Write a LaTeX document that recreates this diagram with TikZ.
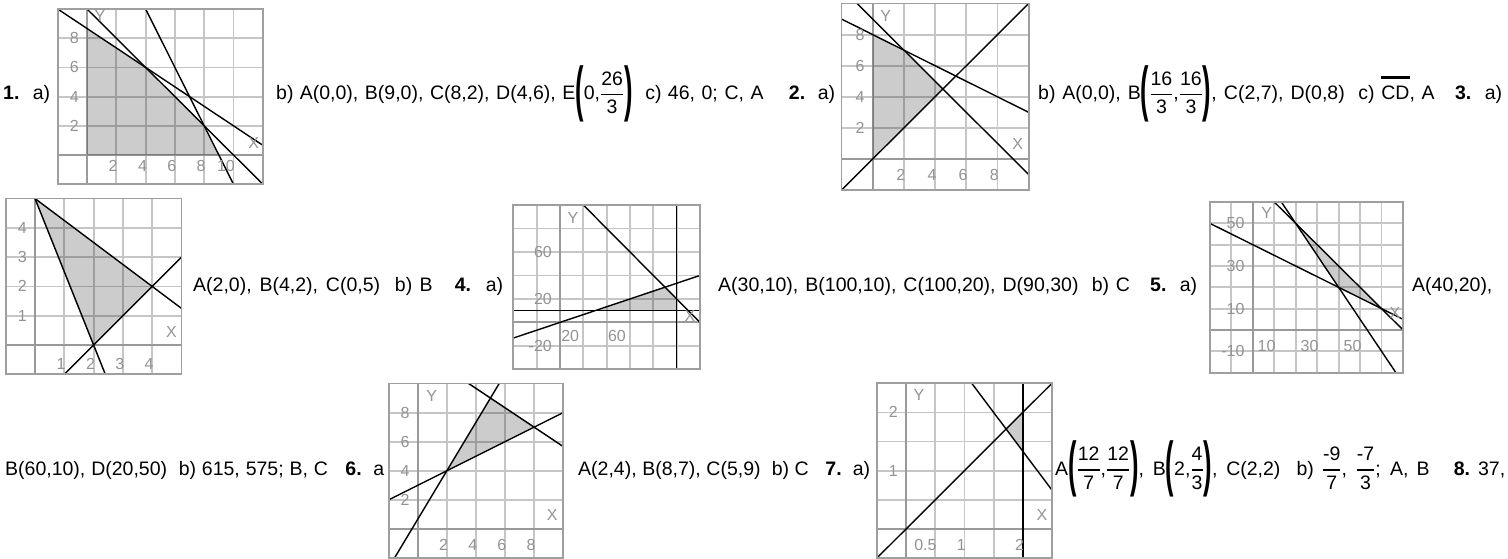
\documentclass[tikz,border=0pt]{standalone}
\usepackage{amsmath}
\usepackage{fontspec}
\setmainfont{Liberation Sans}
\usepackage{graphicx}
\usetikzlibrary{positioning}

\newcommand{\anssize}{\fontsize{19.5pt}{23pt}\selectfont}
\newcommand{\ticksize}{\fontsize{16pt}{18pt}\selectfont}
% fraction, big bracket and bar used in the answers
\newcommand{\fr}[2]{\genfrac{}{}{1.6pt}{0}{\text{#1}}{\text{#2}}}
\newcommand{\bigpar}[1]{\raisebox{-0.5em}{\scalebox{1.3}[3.1]{\bfseries #1}}}
\newcommand{\pg}[1]{\bigpar{(}$#1$\bigpar{)}}
\newsavebox{\barbox}
\newcommand{\thickbar}[1]{\sbox{\barbox}{#1}\rlap{\rule[21pt]{\wd\barbox}{2.8pt}}#1}
% grid and axes of one plot: xmin, xmin+step, xmax, ymin, ymin+step, ymax
\newcommand{\lpgrid}[6]{%
  \foreach \gx in {#1,#2,...,#3} \draw[gridline] (\gx,#4) -- (\gx,#6);
  \foreach \gy in {#4,#5,...,#6} \draw[gridline] (#1,\gy) -- (#3,\gy);
  \draw[axisline] (#1,0) -- (#3,0) (0,#4) -- (0,#6);
}

\tikzset{
  gridline/.style={draw=gray!45, line width=1.8pt},
  axisline/.style={draw=gray!80, line width=2pt},
  frameline/.style={draw=gray!75, line width=1.8pt},
  feasible/.style={fill=black, fill opacity=0.2},
  bound/.style={draw=black, line width=1.4pt},
  ticklabel/.style={text=gray!85, font=\ticksize, inner sep=0pt},
  ylab/.style={ticklabel, anchor=east, xshift=-8pt},
  xlab/.style={ticklabel, anchor=east, xshift=1.5pt, yshift=-16pt},
  answer/.style={anchor=base west, inner sep=0pt, font=\anssize},
}

\begin{document}
\begin{tikzpicture}[x=1pt, y=-1pt]
    \useasboundingbox (0,0) rectangle (1508,558);
    \fill[white] (0,0) rectangle (1508,558);

    % Plot 1
    \begin{scope}[shift={(87pt,-155pt)}, x=14.65pt, y=14.6pt]
      \lpgrid{-2}{0}{12}{-2}{0}{10}
      \coordinate (p1A) at (0,0);
      \coordinate (p1B) at (9,0);
      \coordinate (p1C) at (8,2);
      \coordinate (p1D) at (4,6);
      \coordinate (p1E) at (0,26/3);
      \fill[feasible] (p1A) -- (p1B) -- (p1C) -- (p1D) -- (p1E) -- cycle;
      \draw[bound] (-2,10) -- (12,2/3);
      \draw[bound] (0,10) -- (12,-2);
      \draw[bound] (4,10) -- (10,-2);
      \draw[frameline] (-2,-2) rectangle (12,10);
      \foreach \t in {2,4,6,8} \node[ylab] (p1y\t) at (0,\t) {\t};
      \foreach \t in {2,4,...,10} \node[xlab, yshift=5pt] (p1x\t) at (\t,0) {\t};
      \node[ticklabel, xshift=13pt, yshift=-7pt] (p1Y) at (0,10) {Y};
      \node[ticklabel, xshift=-9pt, yshift=12pt] (p1X) at (12,0) {X};
    \end{scope}

    % Plot 2
    \begin{scope}[shift={(872.7pt,-159pt)}, x=15.6pt, y=15.55pt]
      \lpgrid{-2}{0}{10}{-2}{0}{10}
      \coordinate (p2A) at (0,0);
      \coordinate (p2B) at (4.5,4.5);
      \coordinate (p2C) at (2,7);
      \coordinate (p2D) at (0,8);
      \fill[feasible] (p2A) -- (p2B) -- (p2C) -- (p2D) -- cycle;
      \draw[bound] (-2,9) -- (10,3);
      \draw[bound] (-1,10) -- (10,-1);
      \draw[bound] (-2,-2) -- (10,10);
      \draw[frameline] (-2,-2) rectangle (10,10);
      \foreach \t in {2,4,6,8} \node[ylab] (p2y\t) at (0,\t) {\t};
      \foreach \t in {2,4,6,8} \node[xlab] (p2x\t) at (\t,0) {\t};
      \node[ticklabel, xshift=13pt, yshift=-12pt] (p2Y) at (0,10) {Y};
      \node[ticklabel, xshift=-11pt, yshift=15pt] (p2X) at (10,0) {X};
    \end{scope}

    % Plot 3
    \begin{scope}[shift={(35pt,-345pt)}, x=29.3pt, y=29.3pt]
      \lpgrid{-1}{0}{5}{-1}{0}{5}
      \coordinate (p3A) at (2,0);
      \coordinate (p3B) at (4,2);
      \coordinate (p3C) at (0,5);
      \fill[feasible] (p3A) -- (p3B) -- (p3C) -- cycle;
      \draw[bound] (0,5) -- (5,1.25);
      \draw[bound] (0,5) -- (2.4,-1);
      \draw[bound] (1,-1) -- (5,3);
      \draw[frameline] (-1,-1) rectangle (5,5);
      \foreach \t in {1,2,3,4} \node[ylab] (p3y\t) at (0,\t) {\t};
      \foreach \t in {1,2,3,4} \node[xlab, yshift=-3pt] (p3x\t) at (\t,0) {\t};
      \node[ticklabel, xshift=-10pt, yshift=13pt] (p3X) at (5,0) {X};
    \end{scope}

    % Plot 4
    \begin{scope}[shift={(560pt,-322.4pt)}, x=1.1667pt, y=1.174pt]
      \lpgrid{-40}{-20}{120}{-40}{-20}{100}
      \coordinate (p4A) at (30,10);
      \coordinate (p4B) at (100,10);
      \coordinate (p4C) at (100,20);
      \coordinate (p4D) at (90,30);
      \fill[feasible] (p4A) -- (p4B) -- (p4C) -- (p4D) -- cycle;
      \draw[bound] (-40,10) -- (120,10);
      \draw[bound] (100,-40) -- (100,100);
      \draw[bound] (-40,-40/3) -- (120,40);
      \draw[bound] (20,100) -- (120,0);
      \draw[frameline] (-40,-40) rectangle (120,100);
      \foreach \t/\n in {60/a,20/b,-20/c} \node[ylab] (p4y\n) at (0,\t) {\t};
      \foreach \t/\n in {20/a,60/b} \node[xlab, xshift=-5.5pt, yshift=2pt] (p4x\n) at (\t,0) {\t};
      \node[ticklabel, xshift=13pt, yshift=-13pt] (p4Y) at (0,100) {Y};
      \node[ticklabel, xshift=-10pt, yshift=6pt] (p4X) at (120,0) {X};
    \end{scope}

    % Plot 5
    \begin{scope}[shift={(1252.7pt,-330pt)}, x=2.148pt, y=2.134pt]
      \lpgrid{-20}{-10}{70}{-20}{-10}{60}
      \coordinate (p5A) at (40,20);
      \coordinate (p5B) at (60,10);
      \coordinate (p5D) at (20,50);
      \fill[feasible] (p5A) -- (p5B) -- (p5D) -- cycle;
      \draw[bound] (-20,50) -- (70,5);
      \draw[bound] (10,60) -- (70,0);
      \draw[bound] (40/3,60) -- (200/3,-20);
      \draw[frameline] (-20,-20) rectangle (70,60);
      \foreach \t/\n in {50/a,30/b,10/c,-10/d} \node[ylab] (p5y\n) at (0,\t) {\t};
      \foreach \t in {10,30,50} \node[xlab] (p5x\t) at (\t,0) {\t};
      \node[ticklabel, xshift=14pt, yshift=-11pt] (p5Y) at (0,60) {Y};
      \node[ticklabel, xshift=-8pt, yshift=17pt] (p5X) at (70,0) {X};
    \end{scope}

    % Plot 6
    \begin{scope}[shift={(417.7pt,-529pt)}, x=14.55pt, y=14.55pt]
      \lpgrid{-2}{0}{10}{-2}{0}{10}
      \coordinate (p6A) at (2,4);
      \coordinate (p6B) at (8,7);
      \coordinate (p6C) at (5,9);
      \fill[feasible] (p6A) -- (p6B) -- (p6C) -- cycle;
      \draw[bound] (-2,2) -- (10,8);
      \draw[bound] (-1.6,-2) -- (5.6,10);
      \draw[bound] (3.5,10) -- (10,17/3);
      \draw[frameline] (-2,-2) rectangle (10,10);
      \foreach \t in {2,4,6,8} \node[ylab] (p6y\t) at (0,\t) {\t};
      \foreach \t in {2,4,6,8} \node[xlab] (p6x\t) at (\t,0) {\t};
      \node[ticklabel, xshift=14pt, yshift=-12pt] (p6Y) at (0,10) {Y};
      \node[ticklabel, xshift=-11pt, yshift=14pt] (p6X) at (10,0) {X};
    \end{scope}

    % Plot 7
    \begin{scope}[shift={(906pt,-529pt)}, x=58.4pt, y=58.3pt]
      \lpgrid{-0.5}{0}{2.5}{-0.5}{0}{2.5}
      \coordinate (p7A) at (12/7,12/7);
      \coordinate (p7B) at (2,4/3);
      \coordinate (p7C) at (2,2);
      \fill[feasible] (p7A) -- (p7B) -- (p7C) -- cycle;
      \draw[bound] (-0.5,-0.5) -- (2.5,2.5);
      \draw[bound] (1.125,2.5) -- (2.5,2/3);
      \draw[bound] (2,-0.5) -- (2,2.5);
      \draw[frameline] (-0.5,-0.5) rectangle (2.5,2.5);
      \foreach \t in {1,2} \node[ylab] (p7y\t) at (0,\t) {\t};
      \foreach \t/\n in {0.5/a,1/b,2/c} \node[xlab] (p7x\n) at (\t,0) {\t};
      \node[ticklabel, xshift=13pt, yshift=-12pt] (p7Y) at (0,2.5) {Y};
      \node[ticklabel, xshift=-10pt, yshift=14pt] (p7X) at (2.5,0) {X};
    \end{scope}

    % Answers, row 1
    \node[answer] (r1a) at (3,99.5) {\makebox[47pt][s]{\textbf{1.} a)}};
    \node[answer] (r1b) at (276,99.5) {\makebox[559pt][s]{b) A(0,0), B(9,0), C(8,2), D(4,6), E\pg{\text{0,}\fr{26}{3}}\ \ c) 46, 0; C, A\ \ \ \ \textbf{2.}\ \ a)}};
    \node[answer] (r1c) at (1038,99.5) {\makebox[464pt][s]{b) A(0,0), B\pg{\fr{16}{3}\text{,}\fr{16}{3}}, C(2,7), D(0,8)\ \ c) \thickbar{CD}, A\ \ \ \textbf{3.}\ \ a)}};
    % row 2
    \node[answer] (r2a) at (193,291) {\makebox[310pt][s]{A(2,0), B(4,2), C(0,5)\ \ b) B\ \ \ \textbf{4.}\ \ a)}};
    \node[answer] (r2b) at (718,291) {\makebox[479pt][s]{A(30,10), B(100,10), C(100,20), D(90,30)\ \ b) C\ \ \ \textbf{5.}\ \ a)}};
    \node[answer] (r2c) at (1412,291) {A(40,20),};
    % row 3
    \node[answer] (r3a) at (5,475) {\makebox[379pt][s]{B(60,10), D(20,50)\ \ b) 615, 575; B, C\ \ \ \textbf{6.}\ \ a}};
    \node[answer] (r3b) at (578,475) {\makebox[292pt][s]{A(2,4), B(8,7), C(5,9)\ \ b) C\ \ \ \textbf{7.}\ \ a)}};
    \node[answer] (r3c) at (1055,475) {\makebox[450pt][s]{A\pg{\fr{12}{7}\text{,}\fr{12}{7}}, B\pg{\text{2,}\fr{4}{3}}, C(2,2)\ \ b) $\fr{-9}{7}$, $\fr{-7}{3}$; A, B\ \ \ \textbf{8.}\ 37,}};
\end{tikzpicture}
\end{document}
